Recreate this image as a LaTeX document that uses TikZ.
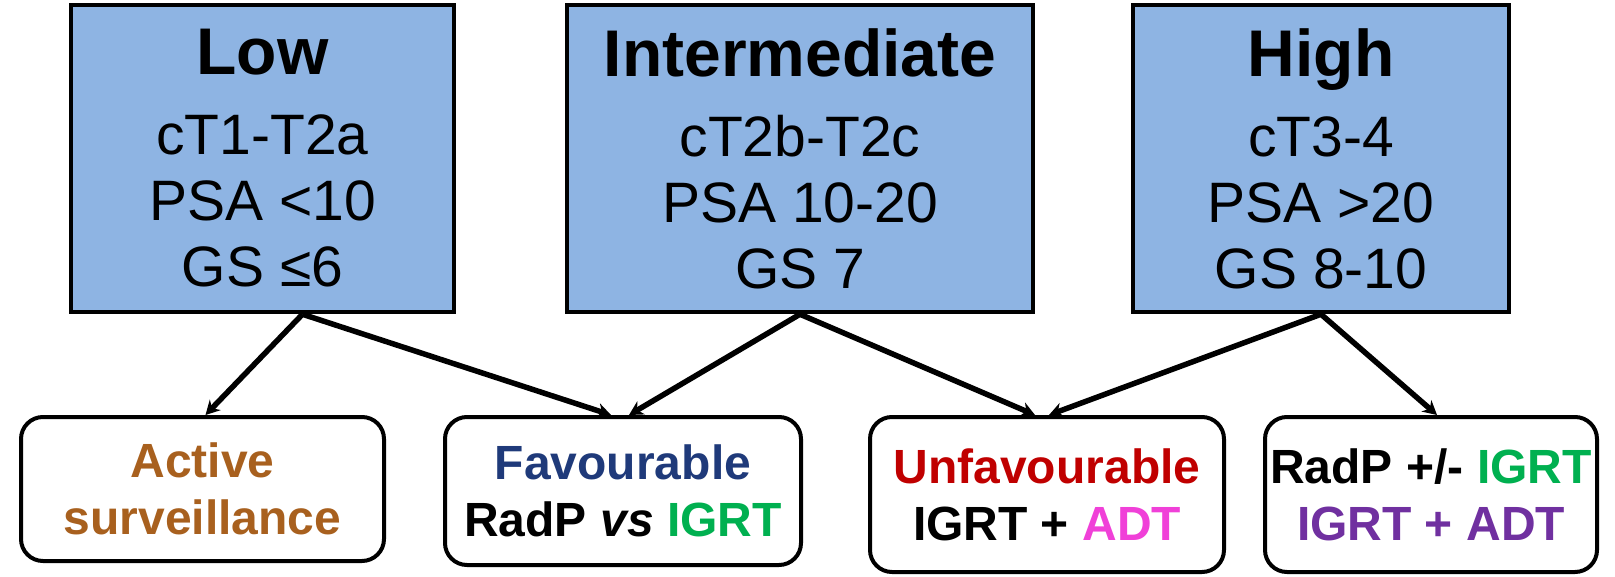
\documentclass[tikz,border=0pt]{standalone}
\usepackage{fontspec}
\setmainfont{Liberation Sans}
\usetikzlibrary{arrows.meta}
\definecolor{boxblue}{HTML}{8EB4E3}
\definecolor{asbrown}{HTML}{A8601E}
\definecolor{favnavy}{HTML}{1F3A7A}
\definecolor{igrtgreen}{HTML}{00B050}
\definecolor{unfavred}{HTML}{C00000}
\definecolor{adtpink}{HTML}{F040D8}
\definecolor{purp}{HTML}{7030A0}
\tikzset{
  riskbox/.style={draw=black, line width=4.5pt, fill=boxblue, inner sep=0pt, align=center,
    minimum height=307pt, font=\fontsize{57}{66}\selectfont},
  txbox/.style={draw=black, line width=4pt, fill=white, rounded corners=22pt, inner sep=0pt,
    align=center, font=\fontsize{48}{57}\selectfont\bfseries},
  arr/.style={line width=5.5pt, -{Stealth[length=14pt,width=15pt]}},
}
\newcommand{\ttl}[1]{{\fontsize{66}{66}\selectfont\bfseries #1}}
\begin{document}
\begin{tikzpicture}[x=1pt,y=-1pt]
\useasboundingbox[fill=white] (0,0) rectangle (1615,577);
\node[riskbox, minimum width=383pt] (low) at (262.5,158.5)
  {\ttl{Low}\\[14pt] cT1-T2a\\ PSA <10\\ GS ≤6};
\node[riskbox, minimum width=466pt] (int) at (800,158.5)
  {\ttl{Intermediate}\\[14pt] cT2b-T2c\\ PSA 10-20\\ GS 7};
\node[riskbox, minimum width=376pt] (high) at (1321,158.5)
  {\ttl{High}\\[14pt] cT3-4\\ PSA >20\\ GS 8-10};

\node[txbox, minimum width=363pt, minimum height=144pt] (as) at (202.5,489)
  {\textcolor{asbrown}{Active}\\ \textcolor{asbrown}{surveillance}};
\node[txbox, minimum width=356pt, minimum height=148pt] (fav) at (623,491)
  {\textcolor{favnavy}{Favourable}\\ RadP \textit{vs} \textcolor{igrtgreen}{IGRT}};
\node[txbox, minimum width=354pt, minimum height=155pt] (unf) at (1047,494.5)
  {\textcolor{unfavred}{Unfavourable}\\ IGRT + \textcolor{adtpink}{ADT}};
\node[txbox, minimum width=332pt, minimum height=155pt] (rp) at (1431,494.5)
  {RadP +/- \textcolor{igrtgreen}{IGRT}\\ \textcolor{purp}{IGRT + ADT}};

\draw[arr] ([xshift=40pt]low.south) -- ([xshift=3pt]as.north);
\draw[arr] ([xshift=40pt]low.south) -- ([xshift=-12pt]fav.north);
\draw[arr] (int.south) -- ([xshift=6pt]fav.north);
\draw[arr] (int.south) -- ([xshift=-12pt]unf.north);
\draw[arr] (high.south) -- ([xshift=2pt]unf.north);
\draw[arr] (high.south) -- ([xshift=6pt]rp.north);
\end{tikzpicture}
\end{document}
